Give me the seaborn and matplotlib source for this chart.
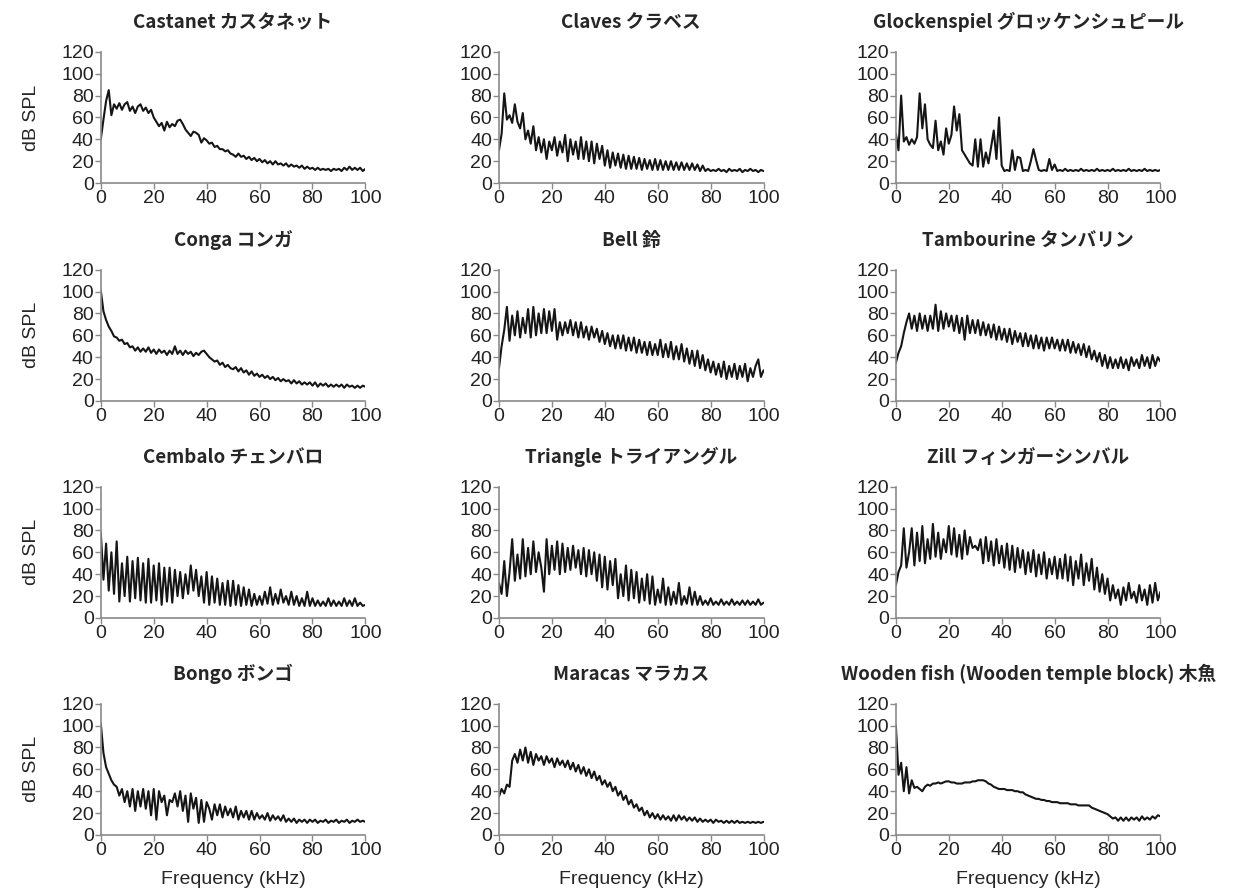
import numpy as np
import matplotlib
matplotlib.use("Agg")
import matplotlib.pyplot as plt
import seaborn as sns

# frequency grid (kHz), one reading per kHz
khz = np.arange(0, 101)

castanet = [40, 58, 75, 85, 62, 72, 68, 73, 67, 72,
            74, 66, 70, 64, 70, 72, 66, 69, 64, 67,
            60, 56, 52, 55, 48, 56, 51, 54, 52, 57,
            58, 54, 49, 46, 43, 47, 46, 44, 37, 41,
            39, 36, 37, 33, 34, 31, 31, 29, 30, 27,
            26, 24, 27, 24, 25, 22, 24, 21, 23, 20,
            22, 19, 21, 18, 20, 17, 20, 17, 18, 16,
            18, 15, 17, 15, 16, 14, 16, 13, 15, 13,
            14, 12, 14, 12, 13, 12, 13, 11, 13, 12,
            13, 11, 14, 12, 15, 12, 14, 12, 14, 11,
            13]
claves = [30, 45, 82, 58, 62, 55, 72, 56, 50, 64,
          40, 48, 36, 52, 30, 42, 28, 40, 22, 38,
          30, 42, 25, 38, 28, 44, 20, 40, 26, 38,
          22, 42, 22, 38, 20, 38, 18, 36, 22, 34,
          16, 30, 14, 28, 16, 27, 14, 26, 13, 25,
          13, 24, 13, 23, 12, 22, 13, 21, 12, 22,
          12, 21, 12, 20, 12, 20, 12, 19, 12, 19,
          12, 18, 12, 18, 12, 17, 11, 16, 11, 13,
          11, 12, 11, 13, 11, 12, 10, 13, 11, 12,
          11, 13, 10, 12, 11, 13, 11, 12, 10, 12,
          11]
glockenspiel = [45, 30, 80, 38, 42, 35, 40, 36, 42, 82,
                50, 72, 40, 35, 32, 57, 30, 38, 26, 50,
                36, 44, 70, 48, 63, 30, 26, 22, 18, 16,
                40, 15, 40, 15, 28, 18, 33, 48, 22, 60,
                16, 11, 12, 11, 30, 12, 24, 23, 11, 12,
                11, 20, 31, 21, 12, 11, 12, 11, 22, 12,
                17, 11, 12, 11, 13, 11, 12, 11, 12, 11,
                13, 11, 12, 11, 12, 11, 13, 11, 12, 11,
                12, 11, 13, 11, 12, 11, 12, 11, 13, 11,
                12, 11, 12, 11, 13, 11, 12, 11, 12, 11,
                12]
conga = [101, 82, 74, 68, 64, 59, 58, 55, 56, 52,
         53, 49, 50, 46, 49, 45, 48, 45, 49, 44,
         47, 43, 47, 44, 46, 42, 46, 43, 50, 43,
         46, 42, 46, 43, 45, 41, 44, 42, 45, 46,
         43, 40, 38, 36, 37, 33, 35, 31, 33, 30,
         29, 31, 27, 30, 26, 28, 24, 27, 23, 25,
         22, 24, 21, 23, 20, 22, 19, 21, 18, 20,
         18, 19, 16, 19, 16, 18, 15, 17, 15, 17,
         14, 17, 13, 16, 14, 16, 13, 15, 13, 15,
         13, 15, 12, 15, 13, 14, 12, 14, 12, 14,
         13]
bell = [30, 50, 65, 86, 55, 78, 60, 82, 58, 76,
        62, 84, 58, 86, 60, 80, 62, 84, 62, 82,
        64, 84, 56, 72, 60, 72, 62, 74, 60, 72,
        58, 72, 58, 68, 56, 68, 58, 66, 54, 64,
        52, 62, 50, 60, 48, 60, 48, 60, 46, 58,
        46, 58, 44, 56, 44, 54, 42, 54, 42, 52,
        42, 56, 40, 52, 40, 54, 38, 50, 38, 52,
        36, 48, 34, 46, 32, 46, 30, 42, 28, 38,
        26, 36, 24, 34, 22, 36, 20, 32, 22, 34,
        20, 32, 22, 34, 18, 30, 22, 32, 38, 22,
        28]
tambourine = [35, 44, 50, 62, 72, 80, 66, 78, 64, 80,
              66, 78, 64, 78, 66, 88, 64, 82, 66, 80,
              68, 78, 64, 78, 62, 76, 56, 78, 62, 74,
              62, 74, 60, 72, 60, 70, 58, 70, 56, 68,
              56, 66, 54, 66, 52, 64, 54, 62, 50, 62,
              50, 60, 48, 60, 48, 58, 46, 58, 48, 58,
              48, 56, 46, 56, 46, 56, 44, 54, 44, 52,
              42, 52, 40, 50, 38, 46, 36, 44, 32, 42,
              30, 40, 30, 38, 30, 40, 30, 38, 28, 40,
              32, 38, 30, 42, 32, 40, 30, 42, 32, 40,
              36]
cembalo = [78, 35, 68, 25, 60, 22, 70, 15, 50, 20,
           56, 15, 52, 18, 55, 16, 50, 14, 54, 14,
           48, 16, 50, 12, 46, 15, 46, 14, 44, 20,
           42, 18, 40, 22, 48, 25, 44, 20, 38, 14,
           42, 12, 38, 14, 36, 12, 32, 12, 34, 11,
           34, 12, 30, 11, 28, 12, 26, 11, 22, 12,
           20, 12, 24, 13, 28, 12, 22, 13, 26, 14,
           20, 12, 24, 12, 20, 11, 18, 11, 24, 11,
           18, 11, 16, 11, 15, 11, 18, 11, 16, 11,
           15, 11, 18, 11, 16, 11, 18, 11, 14, 11,
           12]
triangle = [32, 22, 52, 20, 42, 72, 34, 58, 36, 72,
            38, 64, 40, 70, 42, 60, 46, 24, 72, 40,
            66, 44, 70, 40, 68, 42, 64, 44, 66, 46,
            62, 40, 64, 38, 62, 40, 60, 34, 58, 28,
            56, 26, 52, 30, 54, 18, 40, 20, 48, 16,
            44, 18, 42, 14, 36, 16, 40, 13, 38, 12,
            26, 14, 36, 12, 28, 12, 24, 13, 32, 12,
            20, 13, 28, 12, 24, 12, 20, 12, 16, 12,
            18, 12, 15, 12, 17, 12, 15, 12, 17, 12,
            15, 12, 16, 12, 16, 12, 15, 12, 17, 12,
            14]
zill = [30, 42, 48, 82, 46, 60, 82, 48, 78, 52,
        84, 50, 72, 54, 86, 56, 78, 54, 72, 60,
        84, 58, 82, 56, 76, 54, 80, 58, 74, 64,
        66, 62, 72, 50, 74, 52, 70, 48, 72, 50,
        66, 46, 68, 44, 66, 42, 64, 46, 62, 40,
        60, 42, 62, 38, 58, 40, 60, 36, 54, 40,
        56, 36, 54, 36, 58, 34, 56, 30, 52, 36,
        58, 30, 50, 34, 54, 26, 46, 24, 40, 22,
        36, 16, 30, 18, 26, 12, 28, 16, 32, 18,
        24, 14, 30, 16, 26, 12, 30, 14, 32, 16,
        24]
bongo = [102, 75, 62, 56, 50, 46, 44, 36, 42, 30,
         40, 26, 42, 22, 40, 26, 42, 24, 40, 18,
         42, 14, 40, 30, 36, 18, 32, 30, 38, 26,
         40, 22, 36, 12, 38, 24, 34, 11, 32, 12,
         30, 24, 14, 28, 18, 28, 16, 26, 18, 24,
         16, 26, 14, 22, 16, 22, 14, 22, 14, 20,
         15, 18, 14, 20, 13, 18, 14, 17, 13, 18,
         12, 15, 12, 15, 11, 14, 12, 14, 11, 14,
         12, 14, 11, 13, 12, 14, 11, 13, 12, 14,
         11, 13, 12, 14, 11, 13, 12, 14, 12, 13,
         12]
maracas = [35, 42, 38, 46, 44, 68, 74, 66, 78, 68,
           80, 66, 76, 64, 74, 68, 72, 64, 72, 66,
           70, 62, 70, 64, 68, 62, 68, 60, 66, 58,
           64, 56, 62, 54, 60, 52, 58, 50, 54, 46,
           50, 44, 48, 40, 44, 36, 40, 32, 36, 28,
           32, 25, 28, 22, 25, 18, 22, 16, 20, 15,
           19, 14, 18, 14, 17, 13, 18, 13, 18, 14,
           17, 13, 16, 13, 16, 12, 15, 12, 14, 12,
           14, 11, 14, 12, 13, 11, 13, 11, 13, 11,
           13, 11, 12, 11, 12, 11, 12, 11, 12, 11,
           12]
wooden_fish = [100, 55, 66, 40, 62, 38, 50, 43, 44, 42,
               40, 44, 46, 45, 47, 47, 48, 47, 48, 49,
               49, 48, 48, 47, 47, 47, 48, 48, 48, 49,
               49, 50, 50, 50, 49, 47, 46, 44, 43, 42,
               42, 42, 41, 41, 41, 40, 40, 39, 39, 37,
               36, 35, 34, 33, 33, 32, 32, 31, 31, 30,
               30, 30, 29, 29, 29, 29, 28, 28, 28, 27,
               27, 27, 27, 27, 25, 24, 23, 22, 21, 20,
               19, 17, 15, 16, 13, 16, 13, 16, 13, 16,
               14, 16, 13, 17, 14, 16, 14, 17, 15, 18,
               17]

titles = ["Castanet カスタネット", "Claves クラベス", "Glockenspiel グロッケンシュピール",
          "Conga コンガ", "Bell 鈴", "Tambourine タンバリン",
          "Cembalo チェンバロ", "Triangle トライアングル", "Zill フィンガーシンバル",
          "Bongo ボンゴ", "Maracas マラカス", "Wooden fish (Wooden temple block) 木魚"]
spectra = [castanet, claves, glockenspiel, conga, bell, tambourine,
           cembalo, triangle, zill, bongo, maracas, wooden_fish]

sns.set_style("ticks")
plt.rcParams['font.family'] = ['Liberation Sans', 'DejaVu Sans']

fig = plt.figure(figsize=(12.6, 8.93), dpi=100)
lefts = [0.080, 0.396, 0.711]
bottoms = [0.795, 0.551, 0.308, 0.065]
w, h = 0.210, 0.147

for i, (title, vals) in enumerate(zip(titles, spectra)):
    r, c = divmod(i, 3)
    ax = fig.add_axes([lefts[c], bottoms[r], w, h])
    sns.lineplot(x=khz, y=vals, ax=ax, color="#151515", linewidth=1.5)
    ax.set_xlim(0, 100)
    ax.set_ylim(0, 120)
    ax.set_xticks(range(0, 101, 20))
    ax.set_yticks(range(0, 121, 20))
    sns.despine(ax=ax)
    for s in ["left", "bottom"]:
        ax.spines[s].set_color("#8a8a8a")
        ax.spines[s].set_linewidth(1.2)
    ax.tick_params(direction="out", length=4, width=1, color="#8a8a8a",
                   labelsize=14, labelcolor="#222222", pad=1)
    ax.set_title(title, fontsize=13.5, fontweight="bold", pad=17,
                 family=["Noto Sans CJK JP", "DejaVu Sans"])
    if c == 0:
        ax.set_ylabel("dB SPL", fontsize=14, labelpad=15)
    else:
        ax.set_ylabel("")
    if r == 3:
        ax.set_xlabel("Frequency (kHz)", fontsize=14, labelpad=9)
    else:
        ax.set_xlabel("")

fig.savefig("out.png", dpi=100)
